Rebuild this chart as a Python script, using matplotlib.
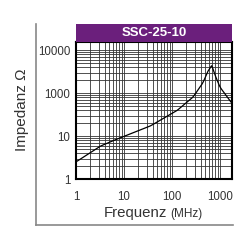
import numpy as np
import matplotlib
matplotlib.use("Agg")
import matplotlib.pyplot as plt
from matplotlib.patches import Rectangle
from matplotlib.lines import Line2D
from matplotlib.ticker import FixedLocator, LogLocator, NullFormatter

title = "SSC-25-10"
freq_mhz = [1, 3.2, 5.6, 35, 127, 275, 445, 560, 680, 800, 1000, 1780]
impedance = [2.5, 5.8, 7.6, 17, 39, 80, 173, 316, 440, 260, 140, 58]
x_ticks = [1, 10, 100, 1000]
x_labels = ["1", "10", "100", "1000"]
y_ticks = [1, 10, 100, 1000]
y_labels = ["1", "10", "1000", "10000"]

plt.rcParams['font.family'] = ['Liberation Sans', 'DejaVu Sans']

fig = plt.figure(figsize=(2.5, 2.5), dpi=100)
ax = fig.add_axes([0.304, 0.284, 0.624, 0.548])

# smooth curve in log-log space
lx = np.log10(freq_mhz)
ly = np.log10(impedance)
xs = np.linspace(lx[0], lx[-1], 400)
ys = np.interp(xs, lx, ly)
k = 9
pad = np.pad(ys, k // 2, mode='edge')
sm = np.convolve(pad, np.ones(k) / k, mode='valid')
peak = np.argmax(ys)
w = np.abs(np.arange(len(xs)) - peak) > 12
ys = np.where(w, sm, ys)
ax.plot(10 ** xs, 10 ** ys, color='black', lw=0.9)

ax.set_xscale('log')
ax.set_yscale('log')
ax.set_xlim(1, 1800)
ax.set_ylim(1, 10 ** 3.19)
ax.xaxis.set_major_locator(FixedLocator(x_ticks))
ax.set_xticklabels(x_labels)
ax.yaxis.set_major_locator(FixedLocator(y_ticks))
ax.set_yticklabels(y_labels)
ax.xaxis.set_minor_locator(LogLocator(base=10, subs=np.arange(2, 10)))
ax.yaxis.set_minor_locator(LogLocator(base=10, subs=np.arange(2, 10)))
ax.xaxis.set_minor_formatter(NullFormatter())
ax.yaxis.set_minor_formatter(NullFormatter())
ax.grid(True, which='both', color='#333333', lw=0.6)
ax.tick_params(which='both', length=0, labelsize=8.3, colors='#333333')
ax.tick_params(axis='x', pad=9)
ax.tick_params(axis='y', pad=4)
for s in ax.spines.values():
    s.set_linewidth(1.5)
    s.set_color('black')

# header band
fig.patches.append(Rectangle((0.304, 0.832), 0.624, 0.072, transform=fig.transFigure,
                             facecolor='#6b1f7c', edgecolor='none'))
fig.text(0.616, 0.868, title, color='white', fontsize=9.5, fontweight='bold',
         ha='center', va='center', family=['Liberation Sans Narrow', 'Liberation Sans', 'DejaVu Sans'])

# outer L frame
fig.add_artist(Line2D([0.144, 0.144], [0.904, 0.10], transform=fig.transFigure,
                      color='#888888', lw=1.2))
fig.add_artist(Line2D([0.144, 0.932], [0.10, 0.10], transform=fig.transFigure,
                      color='#888888', lw=1.2))

fig.text(0.088, 0.56, "Impedanz Ω", rotation=90, ha='center', va='center',
         fontsize=11, color='#333333')
fig.text(0.668, 0.148, "Frequenz", ha='right', va='center', fontsize=10.8, color='#333333')
fig.text(0.680, 0.143, "(MHz)", ha='left', va='center', fontsize=8.5, color='#333333')

fig.savefig("out.png", dpi=100)
